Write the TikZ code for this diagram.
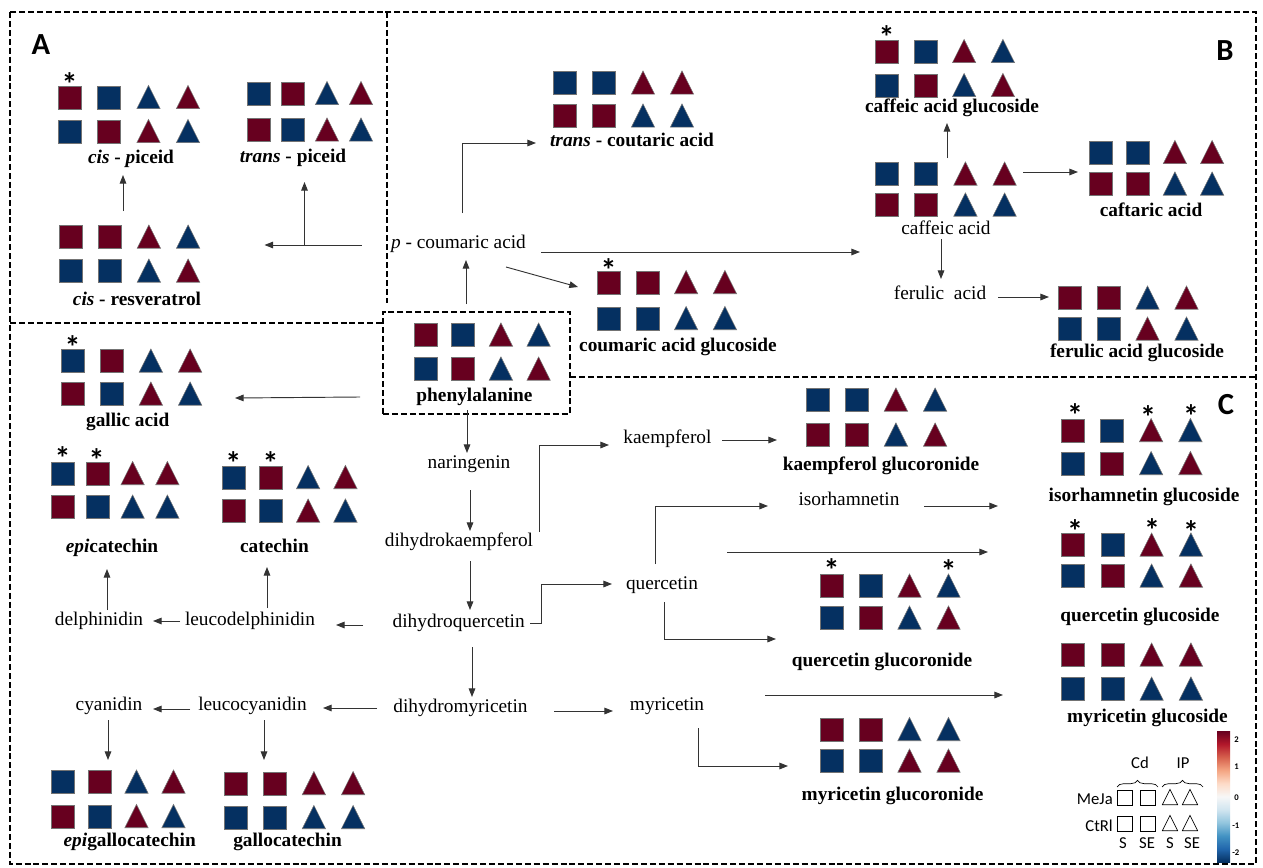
\documentclass[tikz,border=0pt]{standalone}
\usepackage{fontspec}
\setmainfont{Liberation Serif}
\newfontfamily\calib{Carlito}
\usetikzlibrary{arrows.meta,shapes.geometric,decorations.pathreplacing}
\definecolor{hr}{HTML}{67001F}
\definecolor{hb}{HTML}{053061}
\definecolor{rbA}{HTML}{053061}
\definecolor{rbB}{HTML}{2166AC}
\definecolor{rbC}{HTML}{4393C3}
\definecolor{rbD}{HTML}{92C5DE}
\definecolor{rbE}{HTML}{D1E5F0}
\definecolor{rbF}{HTML}{F7F7F7}
\definecolor{rbG}{HTML}{FDDBC7}
\definecolor{rbH}{HTML}{F4A582}
\definecolor{rbI}{HTML}{D6604D}
\definecolor{rbJ}{HTML}{B2182B}
\definecolor{rbK}{HTML}{67001F}
\pgfdeclareverticalshading{rdbu}{100bp}{color(0bp)=(rbA); color(25bp)=(rbA); color(30bp)=(rbB); color(35bp)=(rbC); color(40bp)=(rbD); color(45bp)=(rbE); color(50bp)=(rbF); color(55bp)=(rbG); color(60bp)=(rbH); color(65bp)=(rbI); color(70bp)=(rbJ); color(75bp)=(rbK); color(100bp)=(rbK)}
\newcommand{\ggrid}[6]{%
  \foreach \cc [count=\ii from 0] in {#6}{%
    \pgfmathsetmacro\gx{#2+mod(\ii,4)*#4}%
    \pgfmathsetmacro\gy{#3+int(\ii/4)*#5}%
    \pgfmathtruncatemacro\gcl{mod(\ii,4)}%
    \ifnum\gcl<2
      \node[sqg,fill=\cc] (#1-\ii) at (\gx,\gy) {};%
    \else
      \node[trg,fill=\cc,anchor=south] (#1-\ii) at (\gx,\gy+11.5) {};%
    \fi}}
\begin{document}
\begin{tikzpicture}[x=0.75pt,y=-0.75pt,
  lab/.style={font=\fontsize{14.5}{16}\selectfont, inner sep=0pt, text height=0.7em, text depth=0.2em},
  blab/.style={font=\fontsize{14.5}{16}\selectfont\bfseries, inner sep=0pt, text height=0.7em, text depth=0.2em},
  arr/.style={-{Triangle[length=6.5pt,width=5pt]}, line width=0.7pt, draw=black!80},
  bord/.style={line width=1.4pt, dash pattern=on 4.5pt off 2.2pt},
  sqg/.style={rectangle, minimum size=17.25pt, inner sep=0pt, draw=black!55, line width=0.4pt},
  trg/.style={isosceles triangle, shape border rotate=90, isosceles triangle stretches, minimum width=17.5pt, minimum height=17.5pt, inner sep=0pt, draw=black!55, line width=0.4pt},
  lsq/.style={rectangle, minimum size=11.25pt, inner sep=0pt, draw=black, line width=0.5pt},
  ltr/.style={isosceles triangle, shape border rotate=90, isosceles triangle stretches, minimum width=11.5pt, minimum height=11.5pt, inner sep=0pt, draw=black, line width=0.5pt, anchor=south},
  astk/.style={font=\calib\bfseries\fontsize{24}{24}\selectfont, inner sep=0pt, anchor=base},
  panel/.style={font=\calib\bfseries\fontsize{23}{23}\selectfont, inner sep=0pt},
  leg/.style={font=\calib\fontsize{12.5}{13}\selectfont, inner sep=0pt},
  tick/.style={font=\calib\bfseries\fontsize{6.5}{7}\selectfont, inner sep=0pt, anchor=west}]
\useasboundingbox (0,0) rectangle (1263,867);
\fill[white] (0,0) rectangle (1263,867);
% borders
\draw[bord] (10,12) rectangle (1256,864);
\draw[bord] (387,12) -- (387,303);
\draw[bord] (10,323) -- (383,323);
\draw[bord] (570,377) -- (1256,377);
\node[bord, draw, rectangle, minimum width=140.25pt, minimum height=76.5pt, inner sep=0pt] (pbox) at (476.5,363) {};
% panel letters
\node[panel] (pA) at (41,45) {A};
\node[panel] (pB) at (1225,51) {B};
\node[panel] (pC) at (1226,405) {C};
% grids
\ggrid{cpi}{69.5}{97.5}{39.5}{34}{hr,hb,hb,hr,hb,hr,hr,hb}
\ggrid{tpi}{259}{93.5}{34}{36.5}{hb,hr,hb,hr,hr,hb,hr,hb}
\ggrid{cres}{70.5}{237}{39.2}{34}{hr,hr,hr,hb,hb,hb,hb,hr}
\ggrid{tca}{565}{83}{39}{33}{hb,hb,hr,hr,hr,hr,hb,hb}
\ggrid{cag}{608.5}{282.5}{38.8}{36}{hr,hr,hr,hr,hb,hb,hb,hb}
\ggrid{cfg}{886.5}{51.5}{38.8}{34}{hr,hb,hr,hb,hb,hr,hb,hr}
\ggrid{cfa}{887}{174}{39.2}{31}{hb,hb,hr,hr,hr,hr,hb,hb}
\ggrid{cft}{1100.5}{152.5}{37.2}{31.5}{hb,hb,hr,hr,hr,hr,hb,hb}
\ggrid{fgl}{1069.5}{298}{39}{31}{hr,hr,hb,hr,hb,hb,hr,hb}
\ggrid{phe}{425.5}{335}{37.7}{34}{hr,hb,hr,hb,hb,hr,hb,hr}
\ggrid{kgl}{817.5}{400}{39.2}{35}{hb,hb,hr,hb,hr,hr,hb,hr}
\ggrid{qgr}{831.5}{586}{39}{32}{hr,hb,hr,hb,hb,hr,hb,hr}
\ggrid{mgr}{831.5}{729.5}{39}{31.5}{hr,hr,hb,hb,hb,hb,hr,hr}
\ggrid{isg}{1072.5}{430.5}{39.3}{33}{hr,hb,hr,hb,hb,hr,hb,hr}
\ggrid{qgs}{1073}{545}{39.3}{31}{hr,hb,hr,hb,hb,hr,hb,hr}
\ggrid{mgs}{1073}{655}{39.3}{34}{hr,hr,hr,hr,hb,hb,hb,hb}
\ggrid{gal}{72.5}{361}{39.2}{33}{hb,hr,hb,hr,hr,hb,hr,hb}
\ggrid{epc}{63}{473.5}{34.8}{33.5}{hb,hr,hr,hr,hr,hb,hb,hb}
\ggrid{cat}{233.5}{477.5}{37.3}{33.5}{hb,hr,hb,hr,hr,hb,hr,hb}
\ggrid{egc}{62.5}{782}{37}{34.5}{hb,hr,hb,hr,hr,hb,hr,hb}
\ggrid{gc}{235.5}{783.5}{39.2}{34}{hr,hr,hr,hr,hb,hb,hb,hb}
% stars
\node[astk] (s1) at (69.5,95) {*};
\node[astk] (s2) at (608.5,281) {*};
\node[astk] (s3) at (886.5,49) {*};
\node[astk] (s4) at (831.5,581) {*};
\node[astk] (s5) at (948.5,582) {*};
\node[astk] (s6) at (1075,426) {*};
\node[astk] (s7) at (1148,428) {*};
\node[astk] (s8) at (1191,427) {*};
\node[astk] (s9) at (1075,542) {*};
\node[astk] (s10) at (1152,541) {*};
\node[astk] (s11) at (1191,543) {*};
\node[astk] (s12) at (72.5,358) {*};
\node[astk] (s13) at (62.7,469) {*};
\node[astk] (s14) at (96.7,471) {*};
\node[astk] (s15) at (233.3,474) {*};
\node[astk] (s16) at (270.7,474) {*};
% bold labels
\node[blab] (l-cpi) at (131,160) {\textit{cis} - \textit{p}iceid};
\node[blab] (l-tpi) at (293,159) {\textit{trans} - piceid};
\node[blab] (l-cres) at (137,302) {\textit{cis} - resveratrol};
\node[blab] (l-tca) at (632,143) {\textit{trans} - coutaric acid};
\node[blab] (l-cag) at (678,348) {coumaric acid glucoside};
\node[blab] (l-cfg) at (952,109) {caffeic acid glucoside};
\node[blab] (l-cft) at (1151,213) {caftaric acid};
\node[blab] (l-fgl) at (1137,354) {ferulic acid glucoside};
\node[blab] (l-phe) at (474.5,398) {phenylalanine};
\node[blab] (l-kgl) at (881,467) {kaempferol glucoronide};
\node[blab] (l-isg) at (1144,498) {isorhamnetin glucoside};
\node[blab] (l-qgs) at (1140,618) {quercetin glucoside};
\node[blab] (l-qgr) at (882,663) {quercetin glucoronide};
\node[blab] (l-mgs) at (1147.5,719) {myricetin glucoside};
\node[blab] (l-mgr) at (892.5,797) {myricetin glucoronide};
\node[blab] (l-gal) at (127.7,423) {gallic acid};
\node[blab] (l-epc) at (112,549) {\textit{epi}catechin};
\node[blab] (l-cat) at (274.5,549) {catechin};
\node[blab] (l-egc) at (129.7,843) {\textit{epi}gallocatechin};
\node[blab] (l-gc) at (287.5,843) {gallocatechin};
% regular labels
\node[lab] (pca) at (458.5,245) {\textit{p} - coumaric acid};
\node[lab] (caf) at (946,231) {caffeic acid};
\node[lab] (fer) at (940,296) {ferulic\ \ acid};
\node[lab] (nar) at (469,465) {naringenin};
\node[lab] (dhk) at (459,543) {dihydrokaempferol};
\node[lab] (dhq) at (458.7,624) {dihydroquercetin};
\node[lab] (dhm) at (460.5,709) {dihydromyricetin};
\node[lab] (kae) at (667.5,440) {kaempferol};
\node[lab] (iso) at (849,502) {isorhamnetin};
\node[lab] (que) at (662,586) {quercetin};
\node[lab] (myr) at (667,707) {myricetin};
\node[lab] (del) at (99,622) {delphinidin};
\node[lab] (ldel) at (250,622) {leucodelphinidin};
\node[lab] (cya) at (109,707) {cyanidin};
\node[lab] (lcya) at (252.5,707) {leucocyanidin};
% arrows
\draw[arr] ([shift={(-97,0)}]pca.center) -- ++(-97,0);
\draw[arr] ([shift={(-154,0)}]pca.center) -- ++(0,-63);
\draw[arr] ([shift={(-14,-91)}]l-cres.center) -- ++(0,-36);
\draw[arr] ([shift={(-10.5,-59)}]pbox.center) -- ++(0,-44);
\draw[arr] ([shift={(3.5,-32)}]pca.center) -- ++(0,-70) -- ++(74,0);
\draw[arr] ([shift={(47.5,22)}]pca.center) -- ++(72,20);
\draw[arr] ([shift={(82.5,7)}]pca.center) -- ++(319,0);
\draw[arr] ([shift={(1,-73)}]caf.center) -- ++(0,-35);
\draw[arr] ([shift={(77,-59)}]caf.center) -- ++(55,0);
\draw[arr] ([shift={(-5,8)}]caf.center) -- ++(0,40);
\draw[arr] ([shift={(58,1)}]fer.center) -- ++(51,0);
\draw[arr] ([shift={(-9.5,47)}]pbox.center) -- ++(0,43);
\draw[arr] ([shift={(1,25)}]nar.center) -- ++(0,41);
\draw[arr] ([shift={(11,18)}]dhk.center) -- ++(0,49);
\draw[arr] ([shift={(13.3,23)}]dhq.center) -- ++(0,50);
\draw[arr] ([shift={(80,-11)}]dhk.center) -- ++(0,-87) -- ++(70,0);
\draw[arr] ([shift={(54.5,0)}]kae.center) -- ++(55,0);
\draw[arr] ([shift={(71.3,-1)}]dhq.center) -- ++(11,0) -- ++(0,-39) -- ++(71,0);
\draw[arr] ([shift={(-7,-22)}]que.center) -- ++(0,-58) -- ++(113,0);
\draw[arr] ([shift={(75,4)}]iso.center) -- ++(74,0);
\draw[arr] ([shift={(65,-34)}]que.center) -- ++(261,0);
\draw[arr] ([shift={(2,16)}]que.center) -- ++(0,37) -- ++(112,0);
\draw[arr] ([shift={(93.5,2)}]dhm.center) -- ++(59,0);
\draw[arr] ([shift={(98,-12)}]myr.center) -- ++(238,0);
\draw[arr] ([shift={(31,21)}]myr.center) -- ++(0,38) -- ++(90,0);
\draw[arr] ([shift={(-116.5,34)}]pbox.center) -- ++(-125,1);
\draw[arr] ([shift={(-95.7,1)}]dhq.center) -- ++(-27,0);
\draw[arr] ([shift={(-70,-1)}]ldel.center) -- ++(-27,0);
\draw[arr] ([shift={(8,-12)}]del.center) -- ++(0,-41);
\draw[arr] ([shift={(17,-14)}]ldel.center) -- ++(0,-41);
\draw[arr] ([shift={(-83.5,-1)}]dhm.center) -- ++(-54,0);
\draw[arr] ([shift={(-62.5,2)}]lcya.center) -- ++(-37,0);
\draw[arr] ([shift={(-1,13)}]cya.center) -- ++(0,40);
\draw[arr] ([shift={(11.5,13)}]lcya.center) -- ++(0,40);
% legend
\node[shade, shading=rdbu, minimum width=9.75pt, minimum height=98.25pt, inner sep=0pt] (cbar) at (1223.5,796.5) {};
\node[tick] (t2) at (1234,740) {2};
\node[tick] (t1) at (1234,767) {1};
\node[tick] (t0) at (1234,798) {0};
\node[tick] (tm1) at (1232,826) {-1};
\node[tick] (tm2) at (1232,853) {-2};
\node[leg] (lg-cd) at (1140,763) {Cd};
\node[leg] (lg-ip) at (1183,763) {IP};
\draw[decorate, decoration={brace, amplitude=5pt}, line width=0.5pt] (1117,787) -- (1158,787);
\draw[decorate, decoration={brace, amplitude=5pt}, line width=0.5pt] (1162,787) -- (1203,787);
\node[leg, anchor=east] (lg-meja) at (1113,799) {MeJa};
\node[leg, anchor=east] (lg-ctrl) at (1113,826) {CtRl};
\node[lsq] (lg-1) at (1125,797.5) {};
\node[lsq] (lg-2) at (1148,797.5) {};
\node[ltr] (lg-3) at (1170,805) {};
\node[ltr] (lg-4) at (1190,805) {};
\node[lsq] (lg-5) at (1125,823.5) {};
\node[lsq] (lg-6) at (1148,823.5) {};
\node[ltr] (lg-7) at (1170,831) {};
\node[ltr] (lg-8) at (1190,831) {};
\node[leg] (lg-s1) at (1123,843) {S};
\node[leg] (lg-se1) at (1147,843) {SE};
\node[leg] (lg-s2) at (1170,843) {S};
\node[leg] (lg-se2) at (1192,843) {SE};
\end{tikzpicture}
\end{document}
